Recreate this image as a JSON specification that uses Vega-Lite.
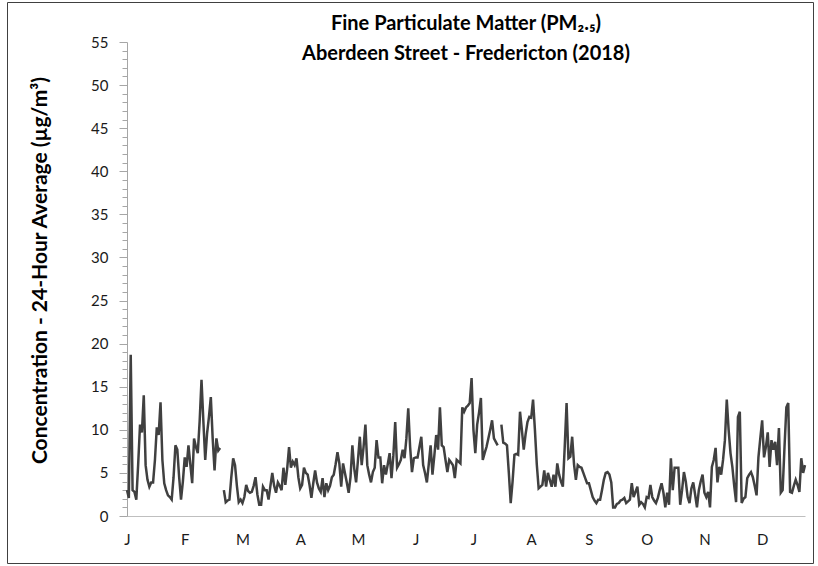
{
  "$schema": "https://vega.github.io/schema/vega-lite/v6.json",
  "autosize": {"type": "none"},
  "width": 806,
  "height": 561,
  "padding": {"left": 7, "top": 2, "right": 5, "bottom": 3},
  "background": "white",
  "config": {
    "view": {"stroke": "#404040", "strokeWidth": 1},
    "font": "Lato"
  },
  "title": {
    "text": ["Fine Particulate Matter (PM₂.₅)", "Aberdeen Street - Fredericton (2018)"],
    "frame": "group",
    "anchor": "middle",
    "dx": 56,
    "offset": -62,
    "baseline": "top",
    "fontSize": 20,
    "lineHeight": 30,
    "fontWeight": "bold",
    "font": "Lato",
    "color": "#000000"
  },
  "data": {
    "values": [
      {"day":0,"pm":3.0},{"day":1,"pm":2.1},{"day":2,"pm":18.7},{"day":3,"pm":3.0},{"day":4,"pm":2.8},
      {"day":5,"pm":1.9},{"day":6,"pm":6.0},{"day":7,"pm":10.6},{"day":8,"pm":9.7},{"day":9,"pm":14.0},
      {"day":10,"pm":5.9},{"day":11,"pm":4.2},{"day":12,"pm":3.4},{"day":13,"pm":3.9},{"day":14,"pm":3.9},
      {"day":15,"pm":6.5},{"day":16,"pm":10.3},{"day":17,"pm":9.4},{"day":18,"pm":13.2},{"day":19,"pm":6.5},
      {"day":20,"pm":3.8},{"day":21,"pm":3.0},{"day":22,"pm":2.4},{"day":23,"pm":2.2},{"day":24,"pm":1.9},
      {"day":25,"pm":4.5},{"day":26,"pm":8.2},{"day":27,"pm":7.7},{"day":28,"pm":4.5},{"day":29,"pm":1.9},
      {"day":30,"pm":4.0},{"day":31,"pm":6.8},{"day":32,"pm":5.7},{"day":33,"pm":8.2},{"day":34,"pm":6.0},
      {"day":35,"pm":3.8},{"day":36,"pm":9.0},{"day":37,"pm":8.0},{"day":38,"pm":7.3},{"day":39,"pm":11.0},
      {"day":40,"pm":15.8},{"day":41,"pm":11.0},{"day":42,"pm":6.5},{"day":43,"pm":9.6},{"day":44,"pm":11.5},
      {"day":45,"pm":13.8},{"day":46,"pm":9.0},{"day":47,"pm":5.3},{"day":48,"pm":9.0},{"day":49,"pm":7.6},
      {"day":50,"pm":7.9},{"day":51,"pm":null},{"day":52,"pm":3.0},{"day":53,"pm":1.6},{"day":54,"pm":1.8},
      {"day":55,"pm":1.9},{"day":56,"pm":4.5},{"day":57,"pm":6.7},{"day":58,"pm":5.9},{"day":59,"pm":3.5},
      {"day":60,"pm":1.6},{"day":61,"pm":1.9},{"day":62,"pm":1.5},{"day":63,"pm":2.2},{"day":64,"pm":3.6},
      {"day":65,"pm":2.9},{"day":66,"pm":2.7},{"day":67,"pm":2.8},{"day":68,"pm":3.5},{"day":69,"pm":4.5},
      {"day":70,"pm":2.5},{"day":71,"pm":1.3},{"day":72,"pm":1.3},{"day":73,"pm":3.4},{"day":74,"pm":3.0},
      {"day":75,"pm":3.0},{"day":76,"pm":1.9},{"day":77,"pm":3.5},{"day":78,"pm":5.0},{"day":79,"pm":3.5},
      {"day":80,"pm":2.7},{"day":81,"pm":3.9},{"day":82,"pm":3.5},{"day":83,"pm":3.0},{"day":84,"pm":5.6},
      {"day":85,"pm":3.6},{"day":86,"pm":5.5},{"day":87,"pm":8.0},{"day":88,"pm":5.6},{"day":89,"pm":6.3},
      {"day":90,"pm":5.9},{"day":91,"pm":6.7},{"day":92,"pm":4.5},{"day":93,"pm":3.2},{"day":94,"pm":3.6},
      {"day":95,"pm":5.6},{"day":96,"pm":5.0},{"day":97,"pm":4.8},{"day":98,"pm":3.6},{"day":99,"pm":2.1},
      {"day":100,"pm":3.8},{"day":101,"pm":5.3},{"day":102,"pm":3.9},{"day":103,"pm":3.2},{"day":104,"pm":2.8},
      {"day":105,"pm":4.4},{"day":106,"pm":2.2},{"day":107,"pm":3.8},{"day":108,"pm":3.0},{"day":109,"pm":3.5},
      {"day":110,"pm":4.5},{"day":111,"pm":4.8},{"day":112,"pm":6.0},{"day":113,"pm":7.4},{"day":114,"pm":6.1},
      {"day":115,"pm":3.4},{"day":116,"pm":6.1},{"day":117,"pm":5.0},{"day":118,"pm":3.9},{"day":119,"pm":2.7},
      {"day":120,"pm":4.5},{"day":121,"pm":8.2},{"day":122,"pm":5.5},{"day":123,"pm":3.9},{"day":124,"pm":6.5},
      {"day":125,"pm":9.2},{"day":126,"pm":5.9},{"day":127,"pm":8.0},{"day":128,"pm":10.6},{"day":129,"pm":5.9},
      {"day":130,"pm":4.8},{"day":131,"pm":3.9},{"day":132,"pm":5.1},{"day":133,"pm":5.6},{"day":134,"pm":8.8},
      {"day":135,"pm":6.8},{"day":136,"pm":6.8},{"day":137,"pm":3.8},{"day":138,"pm":5.9},{"day":139,"pm":4.8},
      {"day":140,"pm":6.0},{"day":141,"pm":7.3},{"day":142,"pm":4.4},{"day":143,"pm":7.0},{"day":144,"pm":10.9},
      {"day":145,"pm":5.6},{"day":146,"pm":6.0},{"day":147,"pm":6.5},{"day":148,"pm":7.7},{"day":149,"pm":6.7},
      {"day":150,"pm":9.0},{"day":151,"pm":12.5},{"day":152,"pm":8.0},{"day":153,"pm":5.1},{"day":154,"pm":6.7},
      {"day":155,"pm":6.8},{"day":156,"pm":6.8},{"day":157,"pm":8.0},{"day":158,"pm":9.2},{"day":159,"pm":5.9},
      {"day":160,"pm":5.0},{"day":161,"pm":3.9},{"day":162,"pm":6.0},{"day":163,"pm":8.2},{"day":164,"pm":4.8},
      {"day":165,"pm":7.0},{"day":166,"pm":9.4},{"day":167,"pm":7.7},{"day":168,"pm":12.6},{"day":169,"pm":8.2},
      {"day":170,"pm":8.0},{"day":171,"pm":6.5},{"day":172,"pm":5.1},{"day":173,"pm":6.5},{"day":174,"pm":6.2},
      {"day":175,"pm":5.9},{"day":176,"pm":4.4},{"day":177,"pm":6.5},{"day":178,"pm":6.3},{"day":179,"pm":6.1},
      {"day":180,"pm":12.6},{"day":181,"pm":12.1},{"day":182,"pm":12.6},{"day":183,"pm":12.8},{"day":184,"pm":13.1},
      {"day":185,"pm":16.0},{"day":186,"pm":10.0},{"day":187,"pm":7.3},{"day":188,"pm":10.6},{"day":189,"pm":12.0},
      {"day":190,"pm":13.7},{"day":191,"pm":6.5},{"day":192,"pm":7.3},{"day":193,"pm":8.0},{"day":194,"pm":9.0},
      {"day":195,"pm":10.0},{"day":196,"pm":11.1},{"day":197,"pm":9.0},{"day":198,"pm":8.6},{"day":199,"pm":8.2},
      {"day":200,"pm":null},{"day":201,"pm":10.6},{"day":202,"pm":8.5},{"day":203,"pm":8.4},{"day":204,"pm":8.2},
      {"day":205,"pm":5.0},{"day":206,"pm":1.5},{"day":207,"pm":4.0},{"day":208,"pm":7.1},{"day":209,"pm":7.2},
      {"day":210,"pm":7.1},{"day":211,"pm":12.1},{"day":212,"pm":10.0},{"day":213,"pm":7.7},{"day":214,"pm":9.5},
      {"day":215,"pm":10.9},{"day":216,"pm":11.5},{"day":217,"pm":11.4},{"day":218,"pm":13.5},{"day":219,"pm":10.0},
      {"day":220,"pm":6.0},{"day":221,"pm":3.2},{"day":222,"pm":3.4},{"day":223,"pm":3.6},{"day":224,"pm":5.3},
      {"day":225,"pm":3.4},{"day":226,"pm":5.0},{"day":227,"pm":4.2},{"day":228,"pm":3.4},{"day":229,"pm":4.8},
      {"day":230,"pm":3.4},{"day":231,"pm":6.1},{"day":232,"pm":4.8},{"day":233,"pm":4.0},{"day":234,"pm":3.4},
      {"day":235,"pm":8.0},{"day":236,"pm":13.1},{"day":237,"pm":6.7},{"day":238,"pm":6.9},{"day":239,"pm":9.2},
      {"day":240,"pm":6.0},{"day":241,"pm":4.2},{"day":242,"pm":5.9},{"day":243,"pm":5.7},{"day":244,"pm":5.6},
      {"day":245,"pm":5.0},{"day":246,"pm":4.4},{"day":247,"pm":3.8},{"day":248,"pm":3.8},{"day":249,"pm":3.0},
      {"day":250,"pm":2.2},{"day":251,"pm":1.8},{"day":252,"pm":1.5},{"day":253,"pm":1.9},{"day":254,"pm":1.9},
      {"day":255,"pm":3.0},{"day":256,"pm":4.2},{"day":257,"pm":5.0},{"day":258,"pm":5.1},{"day":259,"pm":4.8},
      {"day":260,"pm":3.9},{"day":261,"pm":1.0},{"day":262,"pm":1.0},{"day":263,"pm":1.4},{"day":264,"pm":1.5},
      {"day":265,"pm":1.8},{"day":266,"pm":1.9},{"day":267,"pm":2.1},{"day":268,"pm":1.5},{"day":269,"pm":1.7},
      {"day":270,"pm":1.9},{"day":271,"pm":3.8},{"day":272,"pm":2.2},{"day":273,"pm":2.8},{"day":274,"pm":3.4},
      {"day":275,"pm":1.3},{"day":276,"pm":1.6},{"day":277,"pm":1.4},{"day":278,"pm":1.0},{"day":279,"pm":2.2},
      {"day":280,"pm":2.1},{"day":281,"pm":3.6},{"day":282,"pm":2.2},{"day":283,"pm":1.8},{"day":284,"pm":1.5},
      {"day":285,"pm":2.1},{"day":286,"pm":3.0},{"day":287,"pm":3.8},{"day":288,"pm":2.7},{"day":289,"pm":1.0},
      {"day":290,"pm":2.7},{"day":291,"pm":1.3},{"day":292,"pm":6.7},{"day":293,"pm":3.0},{"day":294,"pm":5.6},
      {"day":295,"pm":5.6},{"day":296,"pm":5.6},{"day":297,"pm":1.3},{"day":298,"pm":3.0},{"day":299,"pm":5.1},
      {"day":300,"pm":4.0},{"day":301,"pm":2.2},{"day":302,"pm":1.5},{"day":303,"pm":3.2},{"day":304,"pm":3.9},
      {"day":305,"pm":2.5},{"day":306,"pm":1.0},{"day":307,"pm":3.0},{"day":308,"pm":4.0},{"day":309,"pm":4.8},
      {"day":310,"pm":2.7},{"day":311,"pm":2.2},{"day":312,"pm":2.8},{"day":313,"pm":1.0},{"day":314,"pm":5.7},
      {"day":315,"pm":6.5},{"day":316,"pm":7.9},{"day":317,"pm":3.9},{"day":318,"pm":5.7},{"day":319,"pm":4.8},
      {"day":320,"pm":6.5},{"day":321,"pm":8.8},{"day":322,"pm":13.5},{"day":323,"pm":10.0},{"day":324,"pm":7.3},
      {"day":325,"pm":5.7},{"day":326,"pm":3.5},{"day":327,"pm":1.6},{"day":328,"pm":11.5},{"day":329,"pm":12.1},
      {"day":330,"pm":1.5},{"day":331,"pm":2.0},{"day":332,"pm":2.2},{"day":333,"pm":4.4},{"day":334,"pm":4.8},
      {"day":335,"pm":5.1},{"day":336,"pm":4.5},{"day":337,"pm":3.5},{"day":338,"pm":2.4},{"day":339,"pm":6.8},
      {"day":340,"pm":9.0},{"day":341,"pm":11.1},{"day":342,"pm":6.8},{"day":343,"pm":8.0},{"day":344,"pm":9.7},
      {"day":345,"pm":5.7},{"day":346,"pm":8.8},{"day":347,"pm":7.7},{"day":348,"pm":8.6},{"day":349,"pm":5.9},
      {"day":350,"pm":10.2},{"day":351,"pm":2.7},{"day":352,"pm":3.0},{"day":353,"pm":8.0},{"day":354,"pm":12.6},
      {"day":355,"pm":13.1},{"day":356,"pm":2.8},{"day":357,"pm":2.7},{"day":358,"pm":3.5},{"day":359,"pm":4.2},
      {"day":360,"pm":3.6},{"day":361,"pm":2.8},{"day":362,"pm":6.7},{"day":363,"pm":5.0},{"day":364,"pm":5.9}
    ]
  },
  "mark": {"type": "line", "color": "#404040", "strokeWidth": 2.5, "invalid": "break-paths-show-domains", "clip": false},
  "encoding": {
    "x": {
      "field": "day",
      "type": "quantitative",
      "scale": {"domain": [0, 364], "range": [120, 798], "nice": false, "zero": false},
      "axis": {
        "title": null,
        "orient": "bottom",
        "offset": -47,
        "values": [0, 31, 62, 93, 124, 155, 186, 217, 248, 279, 310, 341],
        "labelExpr": "['J','F','M','A','M','J','J','A','S','O','N','D'][round(datum.value / 31)]",
        "grid": false,
        "ticks": false,
        "domainColor": "#bfbfbf",
        "domainWidth": 1,
        "labelFontSize": 15,
        "labelColor": "#1a1a1a",
        "labelPadding": 16,
        "labelFlush": false,
        "labelOverlap": false
      }
    },
    "y": {
      "field": "pm",
      "type": "quantitative",
      "scale": {"domain": [0, 55], "range": [514, 40], "nice": false},
      "axis": {
        "title": "Concentration - 24-Hour Average (µg/m³)",
        "orient": "left",
        "offset": -120,
        "values": [0,1,2,3,4,5,6,7,8,9,10,11,12,13,14,15,16,17,18,19,20,21,22,23,24,25,26,27,28,29,30,31,32,33,34,35,36,37,38,39,40,41,42,43,44,45,46,47,48,49,50,51,52,53,54,55],
        "labelExpr": "datum.value % 5 === 0 ? datum.label : ''",
        "grid": false,
        "tickSize": {"condition": {"test": "datum.value % 5 === 0", "value": 8}, "value": 5},
        "tickColor": "#a6a6a6",
        "domainColor": "#a6a6a6",
        "labelFontSize": 15,
        "labelColor": "#1a1a1a",
        "labelPadding": 11,
        "labelFlush": false,
        "labelOverlap": false,
        "titleFontSize": 21,
        "titleFontWeight": "bold",
        "titleColor": "#000000",
        "titleAngle": -90,
        "titleAlign": "center",
        "titleBaseline": "middle",
        "titleX": -87,
        "titleY": 268
      }
    }
  }
}
